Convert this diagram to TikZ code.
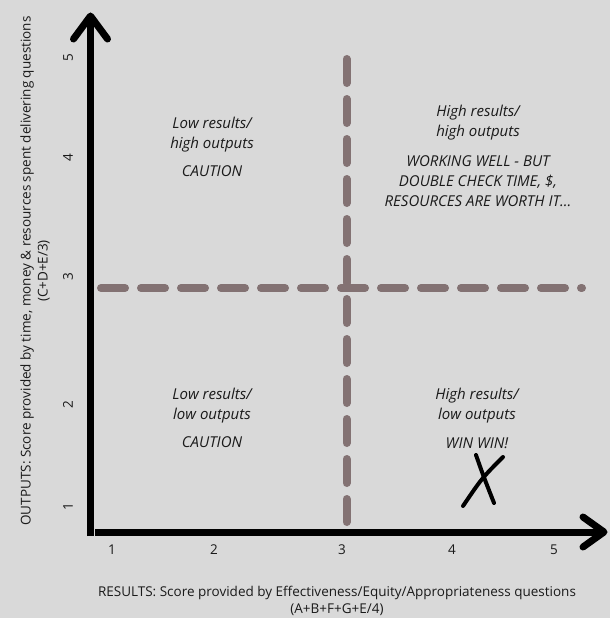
\documentclass[tikz,border=0pt]{standalone}
\usepackage{fontspec}
\setmainfont{Open Sans}
\usetikzlibrary{positioning}
\definecolor{bggray}{HTML}{D9D9D9}
\definecolor{guidegray}{HTML}{837273}
\definecolor{inkgray}{HTML}{1A1A1A}

\begin{document}
\begin{tikzpicture}[x=1pt, y=-1pt, node distance=13.5pt and 13.5pt,
  every node/.style={inner sep=0pt, text=inkgray},
  axis/.style={line width=7pt, black},
  arm/.style={line width=7pt, black, line cap=round, line join=round},
  guide/.style={line width=8pt, guidegray, line cap=round, dash pattern=on 24pt off 16pt},
  head/.style={align=center, font=\fontsize{15}{20}\selectfont\itshape},
  note/.style={align=center, font=\fontsize{15}{20}\selectfont\itshape},
  tick/.style={font=\fontsize{13.5}{15}\selectfont},
  title/.style={align=center, font=\fontsize{13.5}{17}\selectfont}]
  \useasboundingbox (0,0) rectangle (610,618);
  \fill[bggray] (0,0) rectangle (610,618);

  % axes
  \coordinate (ybase) at (90.5,536);
  \coordinate (ytip) at (90.5,16);
  \coordinate (xbase) at (95,532);
  \coordinate (xtip) at (604,532);
  \draw[axis] (ybase) -- (ytip);
  \draw[axis] (xbase) -- (xtip);
  \draw[arm] (ytip) ++(-17,23) -- (ytip) -- ++(17,23);
  \draw[arm] (xtip) ++(-21,-15) -- (xtip) -- ++(-21,15);

  % quadrant guides
  \coordinate (hstart) at (101,288);
  \coordinate (hend) at (582,288);
  \coordinate (vstart) at (346.5,59);
  \coordinate (vend) at (346.5,522);
  \draw[guide] (hstart) -- (hend);
  \draw[guide] (vstart) -- (vend);

  % ticks
  \foreach \n/\x in {1/112,2/214,3/342,4/452,5/554}
    \node[tick] (xt\n) at (\x,550) {\n};
  \foreach \n/\y in {1/507,2/405,3/277,4/158,5/58}
    \node[tick, rotate=90] (yt\n) at (68,\y) {\n};

  % axis titles
  \node[title, rotate=90] (ytitle) at (35,271)
    {OUTPUTS: Score provided by time, money \& resources spent delivering questions\\(C+D+E/3)};
  \node[title] (xtitle) at (337,601)
    {RESULTS: Score provided by Effectiveness/Equity/Appropriateness questions\\(A+B+F+G+E/4)};

  % quadrants
  \node[head] (tlhead) at (212,134.5) {Low results/\\high outputs};
  \node[note, below=of tlhead] (tlnote) {CAUTION};
  \node[head] (trhead) at (478,123) {High results/\\high outputs};
  \node[note, below=15pt of trhead] (trnote)
    {WORKING WELL - BUT\\DOUBLE CHECK TIME, \$,\\RESOURCES ARE WORTH IT...};
  \node[head] (blhead) at (212,406) {Low results/\\low outputs};
  \node[note, below=12.5pt of blhead] (blnote) {CAUTION};
  \node[head] (brhead) at (477,406) {High results/\\low outputs};
  \node[note, below=of brhead] (brnote) {WIN WIN!};

  % hand-drawn mark
  \draw[line width=4pt, black, line cap=round] (476,455) .. controls (483,475) .. (494,503);
  \draw[line width=4pt, black, line cap=round] (503,457) .. controls (482,478) .. (463,506);
\end{tikzpicture}
\end{document}
